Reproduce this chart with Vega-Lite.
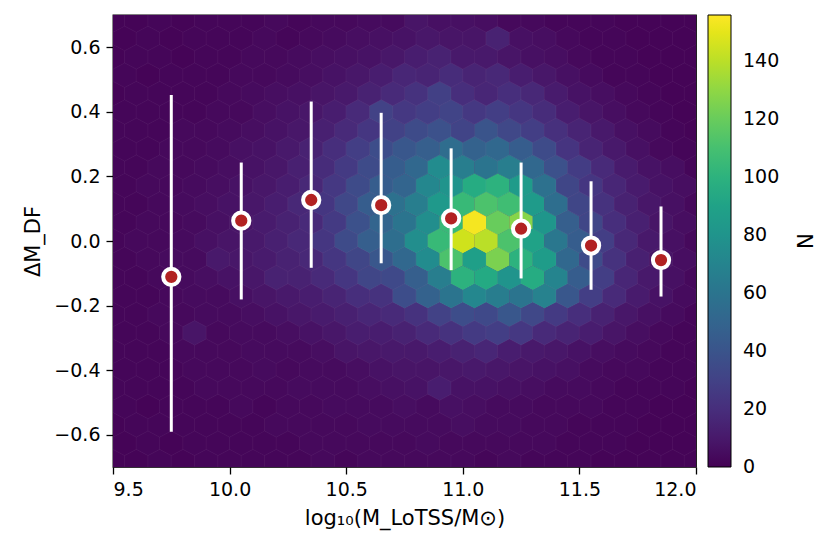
{
"$schema":"https://vega.github.io/schema/vega-lite/v6.json",
"width":583,"height":452,
"autosize":{"type":"none"},
"padding":{"left":113,"top":15,"right":133,"bottom":88},
"config":{
 "font":"DejaVu Sans",
 "view":{"stroke":"black","strokeWidth":1.3,"fill":"#450457"},
 "axis":{"domain":false,"grid":false,"tickColor":"black","tickSize":7,"tickWidth":1.3,"labelFontSize":19,"labelColor":"black","labelPadding":6,"titleFontSize":21,"titleFontWeight":"normal","titleColor":"black"}
},
"datasets":{
"hex":[
{"x":10.8,"y":0.684,"n":8},{"x":10.9,"y":0.684,"n":6},{"x":11.0,"y":0.684,"n":6},{"x":11.1,"y":0.684,"n":5},
{"x":10.55,"y":0.627,"n":5},{"x":10.65,"y":0.627,"n":6},{"x":10.75,"y":0.627,"n":7},{"x":10.85,"y":0.627,"n":9},{"x":10.95,"y":0.627,"n":8},{"x":11.05,"y":0.627,"n":8},{"x":11.15,"y":0.627,"n":14},{"x":11.25,"y":0.627,"n":6},{"x":11.35,"y":0.627,"n":5},
{"x":10.4,"y":0.57,"n":5},{"x":10.5,"y":0.57,"n":6},{"x":10.6,"y":0.57,"n":7},{"x":10.7,"y":0.57,"n":9},{"x":10.8,"y":0.57,"n":12},{"x":10.9,"y":0.57,"n":14},{"x":11.0,"y":0.57,"n":10},{"x":11.1,"y":0.57,"n":10},{"x":11.2,"y":0.57,"n":8},{"x":11.3,"y":0.57,"n":6},{"x":11.4,"y":0.57,"n":5},
{"x":10.35,"y":0.513,"n":5},{"x":10.45,"y":0.513,"n":7},{"x":10.55,"y":0.513,"n":9},{"x":10.65,"y":0.513,"n":12},{"x":10.75,"y":0.513,"n":16},{"x":10.85,"y":0.513,"n":15},{"x":10.95,"y":0.513,"n":19},{"x":11.05,"y":0.513,"n":15},{"x":11.15,"y":0.513,"n":17},{"x":11.25,"y":0.513,"n":12},{"x":11.35,"y":0.513,"n":9},{"x":11.45,"y":0.513,"n":6},
{"x":10.2,"y":0.456,"n":5},{"x":10.3,"y":0.456,"n":6},{"x":10.4,"y":0.456,"n":8},{"x":10.5,"y":0.456,"n":10},{"x":10.6,"y":0.456,"n":14},{"x":10.7,"y":0.456,"n":18},{"x":10.8,"y":0.456,"n":22},{"x":10.9,"y":0.456,"n":29},{"x":11.0,"y":0.456,"n":20},{"x":11.1,"y":0.456,"n":16},{"x":11.2,"y":0.456,"n":20},{"x":11.3,"y":0.456,"n":17},{"x":11.4,"y":0.456,"n":11},{"x":11.5,"y":0.456,"n":7},{"x":11.6,"y":0.456,"n":5},
{"x":10.15,"y":0.399,"n":5},{"x":10.25,"y":0.399,"n":7},{"x":10.35,"y":0.399,"n":9},{"x":10.45,"y":0.399,"n":12},{"x":10.55,"y":0.399,"n":18},{"x":10.65,"y":0.399,"n":30},{"x":10.75,"y":0.399,"n":25},{"x":10.85,"y":0.399,"n":28},{"x":10.95,"y":0.399,"n":31},{"x":11.05,"y":0.399,"n":25},{"x":11.15,"y":0.399,"n":28},{"x":11.25,"y":0.399,"n":24},{"x":11.35,"y":0.399,"n":19},{"x":11.45,"y":0.399,"n":12},{"x":11.55,"y":0.399,"n":8},{"x":11.65,"y":0.399,"n":5},
{"x":10.1,"y":0.342,"n":5},{"x":10.2,"y":0.342,"n":7},{"x":10.3,"y":0.342,"n":9},{"x":10.4,"y":0.342,"n":13},{"x":10.5,"y":0.342,"n":18},{"x":10.6,"y":0.342,"n":24},{"x":10.7,"y":0.342,"n":30},{"x":10.8,"y":0.342,"n":35},{"x":10.9,"y":0.342,"n":38},{"x":11.0,"y":0.342,"n":31},{"x":11.1,"y":0.342,"n":40},{"x":11.2,"y":0.342,"n":33},{"x":11.3,"y":0.342,"n":28},{"x":11.4,"y":0.342,"n":21},{"x":11.5,"y":0.342,"n":15},{"x":11.6,"y":0.342,"n":10},{"x":11.7,"y":0.342,"n":6},
{"x":10.05,"y":0.285,"n":6},{"x":10.15,"y":0.285,"n":7},{"x":10.25,"y":0.285,"n":10},{"x":10.35,"y":0.285,"n":14},{"x":10.45,"y":0.285,"n":20},{"x":10.55,"y":0.285,"n":28},{"x":10.65,"y":0.285,"n":36},{"x":10.75,"y":0.285,"n":42},{"x":10.85,"y":0.285,"n":46},{"x":10.95,"y":0.285,"n":55},{"x":11.05,"y":0.285,"n":48},{"x":11.15,"y":0.285,"n":52},{"x":11.25,"y":0.285,"n":45},{"x":11.35,"y":0.285,"n":35},{"x":11.45,"y":0.285,"n":23},{"x":11.55,"y":0.285,"n":15},{"x":11.65,"y":0.285,"n":10},{"x":11.75,"y":0.285,"n":6},
{"x":10.0,"y":0.228,"n":5},{"x":10.1,"y":0.228,"n":7},{"x":10.2,"y":0.228,"n":9},{"x":10.3,"y":0.228,"n":13},{"x":10.4,"y":0.228,"n":19},{"x":10.5,"y":0.228,"n":26},{"x":10.6,"y":0.228,"n":35},{"x":10.7,"y":0.228,"n":45},{"x":10.8,"y":0.228,"n":52},{"x":10.9,"y":0.228,"n":75},{"x":11.0,"y":0.228,"n":66},{"x":11.1,"y":0.228,"n":60},{"x":11.2,"y":0.228,"n":66},{"x":11.3,"y":0.228,"n":52},{"x":11.4,"y":0.228,"n":38},{"x":11.5,"y":0.228,"n":27},{"x":11.6,"y":0.228,"n":18},{"x":11.7,"y":0.228,"n":11},{"x":11.8,"y":0.228,"n":7},{"x":11.9,"y":0.228,"n":5},
{"x":9.95,"y":0.171,"n":5},{"x":10.05,"y":0.171,"n":7},{"x":10.15,"y":0.171,"n":9},{"x":10.25,"y":0.171,"n":12},{"x":10.35,"y":0.171,"n":17},{"x":10.45,"y":0.171,"n":25},{"x":10.55,"y":0.171,"n":35},{"x":10.65,"y":0.171,"n":45},{"x":10.75,"y":0.171,"n":50},{"x":10.85,"y":0.171,"n":72},{"x":10.95,"y":0.171,"n":80},{"x":11.05,"y":0.171,"n":96},{"x":11.15,"y":0.171,"n":100},{"x":11.25,"y":0.171,"n":85},{"x":11.35,"y":0.171,"n":58},{"x":11.45,"y":0.171,"n":32},{"x":11.55,"y":0.171,"n":24},{"x":11.65,"y":0.171,"n":16},{"x":11.75,"y":0.171,"n":11},{"x":11.85,"y":0.171,"n":7},{"x":11.95,"y":0.171,"n":5},
{"x":9.9,"y":0.114,"n":5},{"x":10.0,"y":0.114,"n":7},{"x":10.1,"y":0.114,"n":9},{"x":10.2,"y":0.114,"n":12},{"x":10.3,"y":0.114,"n":17},{"x":10.4,"y":0.114,"n":24},{"x":10.5,"y":0.114,"n":33},{"x":10.6,"y":0.114,"n":45},{"x":10.7,"y":0.114,"n":58},{"x":10.8,"y":0.114,"n":66},{"x":10.9,"y":0.114,"n":84},{"x":11.0,"y":0.114,"n":105},{"x":11.1,"y":0.114,"n":112},{"x":11.2,"y":0.114,"n":108},{"x":11.3,"y":0.114,"n":85},{"x":11.4,"y":0.114,"n":56},{"x":11.5,"y":0.114,"n":32},{"x":11.6,"y":0.114,"n":22},{"x":11.7,"y":0.114,"n":14},{"x":11.8,"y":0.114,"n":9},{"x":11.9,"y":0.114,"n":6},
{"x":9.95,"y":0.057,"n":6},{"x":10.05,"y":0.057,"n":8},{"x":10.15,"y":0.057,"n":11},{"x":10.25,"y":0.057,"n":14},{"x":10.35,"y":0.057,"n":18},{"x":10.45,"y":0.057,"n":26},{"x":10.55,"y":0.057,"n":38},{"x":10.65,"y":0.057,"n":50},{"x":10.75,"y":0.057,"n":60},{"x":10.85,"y":0.057,"n":76},{"x":10.95,"y":0.057,"n":105},{"x":11.05,"y":0.057,"n":154},{"x":11.15,"y":0.057,"n":120},{"x":11.25,"y":0.057,"n":128},{"x":11.35,"y":0.057,"n":82},{"x":11.45,"y":0.057,"n":46},{"x":11.55,"y":0.057,"n":32},{"x":11.65,"y":0.057,"n":20},{"x":11.75,"y":0.057,"n":13},{"x":11.85,"y":0.057,"n":8},{"x":11.95,"y":0.057,"n":5},
{"x":9.9,"y":0,"n":6},{"x":10.0,"y":0,"n":8},{"x":10.1,"y":0,"n":10},{"x":10.2,"y":0,"n":13},{"x":10.3,"y":0,"n":17},{"x":10.4,"y":0,"n":24},{"x":10.5,"y":0,"n":35},{"x":10.6,"y":0,"n":46},{"x":10.7,"y":0,"n":56},{"x":10.8,"y":0,"n":76},{"x":10.9,"y":0,"n":105},{"x":11.0,"y":0,"n":145},{"x":11.1,"y":0,"n":140},{"x":11.2,"y":0,"n":112},{"x":11.3,"y":0,"n":90},{"x":11.4,"y":0,"n":62},{"x":11.5,"y":0,"n":45},{"x":11.6,"y":0,"n":28},{"x":11.7,"y":0,"n":17},{"x":11.8,"y":0,"n":10},{"x":11.9,"y":0,"n":6},
{"x":9.95,"y":-0.057,"n":10},{"x":10.05,"y":-0.057,"n":9},{"x":10.15,"y":-0.057,"n":11},{"x":10.25,"y":-0.057,"n":14},{"x":10.35,"y":-0.057,"n":17},{"x":10.45,"y":-0.057,"n":24},{"x":10.55,"y":-0.057,"n":32},{"x":10.65,"y":-0.057,"n":42},{"x":10.75,"y":-0.057,"n":52},{"x":10.85,"y":-0.057,"n":75},{"x":10.95,"y":-0.057,"n":112},{"x":11.05,"y":-0.057,"n":88},{"x":11.15,"y":-0.057,"n":125},{"x":11.25,"y":-0.057,"n":100},{"x":11.35,"y":-0.057,"n":86},{"x":11.45,"y":-0.057,"n":52},{"x":11.55,"y":-0.057,"n":35},{"x":11.65,"y":-0.057,"n":22},{"x":11.75,"y":-0.057,"n":13},{"x":11.85,"y":-0.057,"n":8},{"x":11.95,"y":-0.057,"n":5},
{"x":9.9,"y":-0.114,"n":5},{"x":10.0,"y":-0.114,"n":7},{"x":10.1,"y":-0.114,"n":9},{"x":10.2,"y":-0.114,"n":14},{"x":10.3,"y":-0.114,"n":14},{"x":10.4,"y":-0.114,"n":18},{"x":10.5,"y":-0.114,"n":24},{"x":10.6,"y":-0.114,"n":32},{"x":10.7,"y":-0.114,"n":34},{"x":10.8,"y":-0.114,"n":46},{"x":10.9,"y":-0.114,"n":66},{"x":11.0,"y":-0.114,"n":100},{"x":11.1,"y":-0.114,"n":95},{"x":11.2,"y":-0.114,"n":80},{"x":11.3,"y":-0.114,"n":96},{"x":11.4,"y":-0.114,"n":70},{"x":11.5,"y":-0.114,"n":45},{"x":11.6,"y":-0.114,"n":28},{"x":11.7,"y":-0.114,"n":16},{"x":11.8,"y":-0.114,"n":10},{"x":11.9,"y":-0.114,"n":6},
{"x":10.05,"y":-0.171,"n":6},{"x":10.15,"y":-0.171,"n":8},{"x":10.25,"y":-0.171,"n":10},{"x":10.35,"y":-0.171,"n":12},{"x":10.45,"y":-0.171,"n":15},{"x":10.55,"y":-0.171,"n":20},{"x":10.65,"y":-0.171,"n":22},{"x":10.75,"y":-0.171,"n":36},{"x":10.85,"y":-0.171,"n":48},{"x":10.95,"y":-0.171,"n":60},{"x":11.05,"y":-0.171,"n":72},{"x":11.15,"y":-0.171,"n":65},{"x":11.25,"y":-0.171,"n":60},{"x":11.35,"y":-0.171,"n":68},{"x":11.45,"y":-0.171,"n":42},{"x":11.55,"y":-0.171,"n":28},{"x":11.65,"y":-0.171,"n":18},{"x":11.75,"y":-0.171,"n":11},{"x":11.85,"y":-0.171,"n":7},
{"x":10.1,"y":-0.228,"n":5},{"x":10.2,"y":-0.228,"n":7},{"x":10.3,"y":-0.228,"n":9},{"x":10.4,"y":-0.228,"n":11},{"x":10.5,"y":-0.228,"n":13},{"x":10.6,"y":-0.228,"n":16},{"x":10.7,"y":-0.228,"n":18},{"x":10.8,"y":-0.228,"n":22},{"x":10.9,"y":-0.228,"n":30},{"x":11.0,"y":-0.228,"n":36},{"x":11.1,"y":-0.228,"n":34},{"x":11.2,"y":-0.228,"n":42},{"x":11.3,"y":-0.228,"n":33},{"x":11.4,"y":-0.228,"n":26},{"x":11.5,"y":-0.228,"n":20},{"x":11.6,"y":-0.228,"n":14},{"x":11.7,"y":-0.228,"n":9},{"x":11.8,"y":-0.228,"n":6},
{"x":10.25,"y":-0.285,"n":5},{"x":10.35,"y":-0.285,"n":7},{"x":10.45,"y":-0.285,"n":9},{"x":10.55,"y":-0.285,"n":12},{"x":10.65,"y":-0.285,"n":12},{"x":10.75,"y":-0.285,"n":14},{"x":10.85,"y":-0.285,"n":18},{"x":10.95,"y":-0.285,"n":22},{"x":11.05,"y":-0.285,"n":26},{"x":11.15,"y":-0.285,"n":28},{"x":11.25,"y":-0.285,"n":25},{"x":11.35,"y":-0.285,"n":18},{"x":11.45,"y":-0.285,"n":15},{"x":11.55,"y":-0.285,"n":12},{"x":11.65,"y":-0.285,"n":8},{"x":11.75,"y":-0.285,"n":5},
{"x":10.4,"y":-0.342,"n":5},{"x":10.5,"y":-0.342,"n":8},{"x":10.6,"y":-0.342,"n":9},{"x":10.7,"y":-0.342,"n":10},{"x":10.8,"y":-0.342,"n":10},{"x":10.9,"y":-0.342,"n":12},{"x":11.0,"y":-0.342,"n":14},{"x":11.1,"y":-0.342,"n":16},{"x":11.2,"y":-0.342,"n":12},{"x":11.3,"y":-0.342,"n":10},{"x":11.4,"y":-0.342,"n":9},{"x":11.5,"y":-0.342,"n":7},{"x":11.6,"y":-0.342,"n":5},
{"x":10.55,"y":-0.399,"n":5},{"x":10.65,"y":-0.399,"n":7},{"x":10.75,"y":-0.399,"n":8},{"x":10.85,"y":-0.399,"n":8},{"x":10.95,"y":-0.399,"n":9},{"x":11.05,"y":-0.399,"n":10},{"x":11.15,"y":-0.399,"n":9},{"x":11.25,"y":-0.399,"n":8},{"x":11.35,"y":-0.399,"n":7},{"x":11.45,"y":-0.399,"n":6},
{"x":10.6,"y":-0.456,"n":5},{"x":10.7,"y":-0.456,"n":6},{"x":10.8,"y":-0.456,"n":7},{"x":10.9,"y":-0.456,"n":12},{"x":11.0,"y":-0.456,"n":7},{"x":11.1,"y":-0.456,"n":7},{"x":11.2,"y":-0.456,"n":6},{"x":11.3,"y":-0.456,"n":5},
{"x":10.75,"y":-0.513,"n":5},{"x":10.95,"y":-0.513,"n":6},{"x":11.05,"y":-0.513,"n":5},
{"x":11.0,"y":-0.57,"n":5},
{"x":9.5,"y":0.684,"n":1},{"x":9.6,"y":0.684,"n":1},{"x":9.7,"y":0.684,"n":2},{"x":9.8,"y":0.684,"n":1},{"x":9.9,"y":0.684,"n":2},{"x":10.0,"y":0.684,"n":2},{"x":10.1,"y":0.684,"n":2},{"x":10.2,"y":0.684,"n":3},{"x":10.3,"y":0.684,"n":2},{"x":10.4,"y":0.684,"n":3},{"x":10.5,"y":0.684,"n":3},{"x":10.6,"y":0.684,"n":4},{"x":10.7,"y":0.684,"n":4},{"x":11.2,"y":0.684,"n":3},{"x":11.3,"y":0.684,"n":3},{"x":11.4,"y":0.684,"n":2},{"x":11.5,"y":0.684,"n":2},{"x":11.6,"y":0.684,"n":2},{"x":11.7,"y":0.684,"n":1},{"x":11.8,"y":0.684,"n":1},{"x":11.9,"y":0.684,"n":1},{"x":12.0,"y":0.684,"n":1},
{"x":9.55,"y":0.627,"n":1},{"x":9.65,"y":0.627,"n":2},{"x":9.75,"y":0.627,"n":1},{"x":9.85,"y":0.627,"n":2},{"x":9.95,"y":0.627,"n":2},{"x":10.05,"y":0.627,"n":2},{"x":10.15,"y":0.627,"n":3},{"x":10.25,"y":0.627,"n":2},{"x":10.35,"y":0.627,"n":3},{"x":10.45,"y":0.627,"n":4},{"x":11.45,"y":0.627,"n":3},{"x":11.55,"y":0.627,"n":2},{"x":11.65,"y":0.627,"n":2},{"x":11.75,"y":0.627,"n":1},{"x":11.85,"y":0.627,"n":1},{"x":11.95,"y":0.627,"n":1},
{"x":9.5,"y":0.57,"n":1},{"x":9.6,"y":0.57,"n":2},{"x":9.7,"y":0.57,"n":2},{"x":9.8,"y":0.57,"n":1},{"x":9.9,"y":0.57,"n":2},{"x":10.0,"y":0.57,"n":2},{"x":10.1,"y":0.57,"n":3},{"x":10.2,"y":0.57,"n":3},{"x":10.3,"y":0.57,"n":4},{"x":11.5,"y":0.57,"n":3},{"x":11.6,"y":0.57,"n":2},{"x":11.7,"y":0.57,"n":2},{"x":11.8,"y":0.57,"n":1},{"x":11.9,"y":0.57,"n":1},{"x":12.0,"y":0.57,"n":1},
{"x":9.55,"y":0.513,"n":2},{"x":9.65,"y":0.513,"n":1},{"x":9.75,"y":0.513,"n":2},{"x":9.85,"y":0.513,"n":2},{"x":9.95,"y":0.513,"n":2},{"x":10.05,"y":0.513,"n":3},{"x":10.15,"y":0.513,"n":3},{"x":10.25,"y":0.513,"n":4},{"x":11.55,"y":0.513,"n":4},{"x":11.65,"y":0.513,"n":2},{"x":11.75,"y":0.513,"n":2},{"x":11.85,"y":0.513,"n":1},{"x":11.95,"y":0.513,"n":1},
{"x":9.5,"y":0.456,"n":1},{"x":9.6,"y":0.456,"n":2},{"x":9.7,"y":0.456,"n":2},{"x":9.8,"y":0.456,"n":2},{"x":9.9,"y":0.456,"n":2},{"x":10.0,"y":0.456,"n":3},{"x":10.1,"y":0.456,"n":4},{"x":11.7,"y":0.456,"n":3},{"x":11.8,"y":0.456,"n":2},{"x":11.9,"y":0.456,"n":1},{"x":12.0,"y":0.456,"n":1},
{"x":9.55,"y":0.399,"n":2},{"x":9.65,"y":0.399,"n":2},{"x":9.75,"y":0.399,"n":2},{"x":9.85,"y":0.399,"n":2},{"x":9.95,"y":0.399,"n":3},{"x":10.05,"y":0.399,"n":3},{"x":11.75,"y":0.399,"n":3},{"x":11.85,"y":0.399,"n":2},{"x":11.95,"y":0.399,"n":1},
{"x":9.5,"y":0.342,"n":2},{"x":9.6,"y":0.342,"n":2},{"x":9.7,"y":0.342,"n":2},{"x":9.8,"y":0.342,"n":3},{"x":9.9,"y":0.342,"n":3},{"x":10.0,"y":0.342,"n":4},{"x":11.8,"y":0.342,"n":4},{"x":11.9,"y":0.342,"n":2},{"x":12.0,"y":0.342,"n":1},
{"x":9.55,"y":0.285,"n":2},{"x":9.65,"y":0.285,"n":2},{"x":9.75,"y":0.285,"n":3},{"x":9.85,"y":0.285,"n":3},{"x":9.95,"y":0.285,"n":4},{"x":11.85,"y":0.285,"n":3},{"x":11.95,"y":0.285,"n":2},
{"x":9.5,"y":0.228,"n":2},{"x":9.6,"y":0.228,"n":2},{"x":9.7,"y":0.228,"n":3},{"x":9.8,"y":0.228,"n":3},{"x":9.9,"y":0.228,"n":4},{"x":12.0,"y":0.228,"n":2},
{"x":9.55,"y":0.171,"n":2},{"x":9.65,"y":0.171,"n":3},{"x":9.75,"y":0.171,"n":3},{"x":9.85,"y":0.171,"n":4},
{"x":9.5,"y":0.114,"n":2},{"x":9.6,"y":0.114,"n":2},{"x":9.7,"y":0.114,"n":3},{"x":9.8,"y":0.114,"n":4},{"x":12.0,"y":0.114,"n":3},
{"x":9.55,"y":0.057,"n":2},{"x":9.65,"y":0.057,"n":3},{"x":9.75,"y":0.057,"n":3},{"x":9.85,"y":0.057,"n":4},
{"x":9.5,"y":0,"n":2},{"x":9.6,"y":0,"n":3},{"x":9.7,"y":0,"n":3},{"x":9.8,"y":0,"n":4},{"x":12.0,"y":0,"n":3},
{"x":9.55,"y":-0.057,"n":2},{"x":9.65,"y":-0.057,"n":3},{"x":9.75,"y":-0.057,"n":4},{"x":9.85,"y":-0.057,"n":4},
{"x":9.5,"y":-0.114,"n":2},{"x":9.6,"y":-0.114,"n":2},{"x":9.7,"y":-0.114,"n":3},{"x":9.8,"y":-0.114,"n":4},{"x":12.0,"y":-0.114,"n":3},
{"x":9.55,"y":-0.171,"n":2},{"x":9.65,"y":-0.171,"n":2},{"x":9.75,"y":-0.171,"n":3},{"x":9.85,"y":-0.171,"n":4},{"x":9.95,"y":-0.171,"n":4},{"x":11.95,"y":-0.171,"n":4},
{"x":9.5,"y":-0.228,"n":2},{"x":9.6,"y":-0.228,"n":2},{"x":9.7,"y":-0.228,"n":3},{"x":9.8,"y":-0.228,"n":3},{"x":9.9,"y":-0.228,"n":4},{"x":10.0,"y":-0.228,"n":4},{"x":11.9,"y":-0.228,"n":4},{"x":12.0,"y":-0.228,"n":2},
{"x":9.55,"y":-0.285,"n":2},{"x":9.65,"y":-0.285,"n":2},{"x":9.75,"y":-0.285,"n":3},{"x":9.85,"y":-0.285,"n":8},{"x":9.95,"y":-0.285,"n":3},{"x":10.05,"y":-0.285,"n":4},{"x":10.15,"y":-0.285,"n":4},{"x":11.85,"y":-0.285,"n":3},{"x":11.95,"y":-0.285,"n":2},
{"x":9.5,"y":-0.342,"n":2},{"x":9.6,"y":-0.342,"n":2},{"x":9.7,"y":-0.342,"n":2},{"x":9.8,"y":-0.342,"n":3},{"x":9.9,"y":-0.342,"n":3},{"x":10.0,"y":-0.342,"n":3},{"x":10.1,"y":-0.342,"n":4},{"x":10.2,"y":-0.342,"n":4},{"x":10.3,"y":-0.342,"n":4},{"x":11.7,"y":-0.342,"n":4},{"x":11.8,"y":-0.342,"n":3},{"x":11.9,"y":-0.342,"n":2},{"x":12.0,"y":-0.342,"n":2},
{"x":9.55,"y":-0.399,"n":2},{"x":9.65,"y":-0.399,"n":2},{"x":9.75,"y":-0.399,"n":2},{"x":9.85,"y":-0.399,"n":3},{"x":9.95,"y":-0.399,"n":3},{"x":10.05,"y":-0.399,"n":3},{"x":10.15,"y":-0.399,"n":4},{"x":10.25,"y":-0.399,"n":3},{"x":10.35,"y":-0.399,"n":4},{"x":10.45,"y":-0.399,"n":4},{"x":11.55,"y":-0.399,"n":4},{"x":11.65,"y":-0.399,"n":3},{"x":11.75,"y":-0.399,"n":3},{"x":11.85,"y":-0.399,"n":2},{"x":11.95,"y":-0.399,"n":2},
{"x":9.5,"y":-0.456,"n":2},{"x":9.6,"y":-0.456,"n":2},{"x":9.7,"y":-0.456,"n":2},{"x":9.8,"y":-0.456,"n":2},{"x":9.9,"y":-0.456,"n":3},{"x":10.0,"y":-0.456,"n":3},{"x":10.1,"y":-0.456,"n":3},{"x":10.2,"y":-0.456,"n":3},{"x":10.3,"y":-0.456,"n":4},{"x":10.4,"y":-0.456,"n":4},{"x":10.5,"y":-0.456,"n":4},{"x":11.4,"y":-0.456,"n":4},{"x":11.5,"y":-0.456,"n":4},{"x":11.6,"y":-0.456,"n":3},{"x":11.7,"y":-0.456,"n":2},{"x":11.8,"y":-0.456,"n":2},{"x":11.9,"y":-0.456,"n":2},{"x":12.0,"y":-0.456,"n":1},
{"x":9.55,"y":-0.513,"n":2},{"x":9.65,"y":-0.513,"n":1},{"x":9.75,"y":-0.513,"n":2},{"x":9.85,"y":-0.513,"n":2},{"x":9.95,"y":-0.513,"n":2},{"x":10.05,"y":-0.513,"n":3},{"x":10.15,"y":-0.513,"n":2},{"x":10.25,"y":-0.513,"n":3},{"x":10.35,"y":-0.513,"n":3},{"x":10.45,"y":-0.513,"n":4},{"x":10.55,"y":-0.513,"n":4},{"x":10.65,"y":-0.513,"n":4},{"x":10.85,"y":-0.513,"n":4},{"x":11.15,"y":-0.513,"n":4},{"x":11.25,"y":-0.513,"n":4},{"x":11.35,"y":-0.513,"n":3},{"x":11.45,"y":-0.513,"n":3},{"x":11.55,"y":-0.513,"n":3},{"x":11.65,"y":-0.513,"n":2},{"x":11.75,"y":-0.513,"n":2},{"x":11.85,"y":-0.513,"n":1},{"x":11.95,"y":-0.513,"n":1},
{"x":9.5,"y":-0.57,"n":1},{"x":9.6,"y":-0.57,"n":2},{"x":9.7,"y":-0.57,"n":2},{"x":9.8,"y":-0.57,"n":2},{"x":9.9,"y":-0.57,"n":2},{"x":10.0,"y":-0.57,"n":2},{"x":10.1,"y":-0.57,"n":2},{"x":10.2,"y":-0.57,"n":3},{"x":10.3,"y":-0.57,"n":3},{"x":10.4,"y":-0.57,"n":3},{"x":10.5,"y":-0.57,"n":3},{"x":10.6,"y":-0.57,"n":4},{"x":10.7,"y":-0.57,"n":4},{"x":10.8,"y":-0.57,"n":4},{"x":10.9,"y":-0.57,"n":4},{"x":11.1,"y":-0.57,"n":4},{"x":11.2,"y":-0.57,"n":4},{"x":11.3,"y":-0.57,"n":3},{"x":11.4,"y":-0.57,"n":3},{"x":11.5,"y":-0.57,"n":2},{"x":11.6,"y":-0.57,"n":2},{"x":11.7,"y":-0.57,"n":2},{"x":11.8,"y":-0.57,"n":1},{"x":11.9,"y":-0.57,"n":1},{"x":12.0,"y":-0.57,"n":1},
{"x":9.55,"y":-0.627,"n":1},{"x":9.65,"y":-0.627,"n":2},{"x":9.75,"y":-0.627,"n":1},{"x":9.85,"y":-0.627,"n":2},{"x":9.95,"y":-0.627,"n":2},{"x":10.05,"y":-0.627,"n":2},{"x":10.15,"y":-0.627,"n":2},{"x":10.25,"y":-0.627,"n":2},{"x":10.35,"y":-0.627,"n":3},{"x":10.45,"y":-0.627,"n":3},{"x":10.55,"y":-0.627,"n":3},{"x":10.65,"y":-0.627,"n":3},{"x":10.75,"y":-0.627,"n":3},{"x":10.85,"y":-0.627,"n":4},{"x":10.95,"y":-0.627,"n":3},{"x":11.05,"y":-0.627,"n":3},{"x":11.15,"y":-0.627,"n":3},{"x":11.25,"y":-0.627,"n":3},{"x":11.35,"y":-0.627,"n":3},{"x":11.45,"y":-0.627,"n":2},{"x":11.55,"y":-0.627,"n":2},{"x":11.65,"y":-0.627,"n":2},{"x":11.75,"y":-0.627,"n":1},{"x":11.85,"y":-0.627,"n":1},{"x":11.95,"y":-0.627,"n":1},
{"x":9.5,"y":-0.684,"n":1},{"x":9.6,"y":-0.684,"n":1},{"x":9.7,"y":-0.684,"n":2},{"x":9.8,"y":-0.684,"n":1},{"x":9.9,"y":-0.684,"n":2},{"x":10.0,"y":-0.684,"n":2},{"x":10.1,"y":-0.684,"n":2},{"x":10.2,"y":-0.684,"n":2},{"x":10.3,"y":-0.684,"n":2},{"x":10.4,"y":-0.684,"n":3},{"x":10.5,"y":-0.684,"n":2},{"x":10.6,"y":-0.684,"n":3},{"x":10.7,"y":-0.684,"n":3},{"x":10.8,"y":-0.684,"n":3},{"x":10.9,"y":-0.684,"n":3},{"x":11.0,"y":-0.684,"n":3},{"x":11.1,"y":-0.684,"n":2},{"x":11.2,"y":-0.684,"n":3},{"x":11.3,"y":-0.684,"n":2},{"x":11.4,"y":-0.684,"n":2},{"x":11.5,"y":-0.684,"n":2},{"x":11.6,"y":-0.684,"n":1},{"x":11.7,"y":-0.684,"n":1},{"x":11.8,"y":-0.684,"n":1},{"x":11.9,"y":-0.684,"n":1},{"x":12.0,"y":-0.684,"n":1}
],
"stats":[
{"x":9.75,"y":-0.111,"lo":-0.591,"hi":0.452},
{"x":10.05,"y":0.063,"lo":-0.181,"hi":0.243},
{"x":10.35,"y":0.127,"lo":-0.083,"hi":0.432},
{"x":10.65,"y":0.111,"lo":-0.069,"hi":0.397},
{"x":10.95,"y":0.070,"lo":-0.090,"hi":0.287},
{"x":11.25,"y":0.038,"lo":-0.116,"hi":0.243},
{"x":11.55,"y":-0.014,"lo":-0.151,"hi":0.185},
{"x":11.85,"y":-0.059,"lo":-0.172,"hi":0.107}
]
},
"layer":[
{"data":{"name":"hex"},
 "mark":{"type":"point","shape":"M0,-1L0.948,-0.5L0.948,0.5L0,1L-0.948,0.5L-0.948,-0.5Z","filled":true,"size":615,"opacity":1,"stroke":"#ffffff","strokeOpacity":0.06,"strokeWidth":0.8,"clip":true},
 "encoding":{
  "x":{"field":"x","type":"quantitative","scale":{"domain":[9.5,12],"nice":false,"zero":false},"axis":{"values":[9.5,10,10.5,11,11.5,12],"format":".1f","title":"log₁₀(M_LoTSS/M⊙)","titlePadding":8}},
  "y":{"field":"y","type":"quantitative","scale":{"domain":[-0.7,0.7],"nice":false,"zero":false},"axis":{"values":[-0.6,-0.4,-0.2,0,0.2,0.4,0.6],"format":".1f","title":"ΔM_DF","titlePadding":10}},
  "color":{"field":"n","type":"quantitative","scale":{"scheme":"viridis","domain":[-0.05,156]},
   "legend":{"type":"gradient","direction":"vertical","orient":"right","offset":12,"gradientLength":452,"gradientThickness":23,"gradientStrokeColor":"black","gradientStrokeWidth":1,"values":[0,20,40,60,80,100,120,140],"labelFontSize":19,"labelOffset":12,"labelColor":"black","labelBaseline":"middle","labelOverlap":false,"title":"N","titleOrient":"right","titleFontSize":21,"titleFontWeight":"normal","titleColor":"black","titleAnchor":"middle","titlePadding":14}}
 }},
{"mark":{"type":"rule","color":"black","strokeWidth":3,"strokeDash":[10,6]},"encoding":{"y":{"datum":0}}},
{"data":{"name":"stats"},"mark":{"type":"rule","color":"white","strokeWidth":3},
 "encoding":{"x":{"field":"x","type":"quantitative"},"y":{"field":"lo","type":"quantitative"},"y2":{"field":"hi"}}},
{"data":{"name":"stats"},"mark":{"type":"point","shape":"circle","filled":true,"fill":"#b22222","stroke":"white","strokeWidth":4,"size":265,"opacity":1},
 "encoding":{"x":{"field":"x","type":"quantitative"},"y":{"field":"y","type":"quantitative"}}}
]
}
